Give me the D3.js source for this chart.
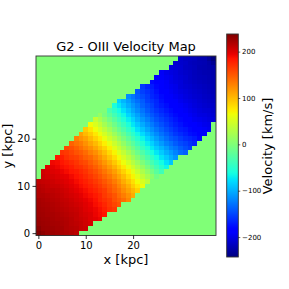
<!DOCTYPE html>
<html>
<head>
<meta charset="utf-8">
<script src="https://cdn.jsdelivr.net/npm/d3@7"></script>
<style>
  html, body { margin: 0; padding: 0; background: #fff; }
  svg { display: block; font-family: "DejaVu Sans", sans-serif; }
</style>
</head>
<body>
<div id="chart"></div>
<script>
const title = 'G2 - OIII Velocity Map';
const xLabel = 'x [kpc]';
const yLabel = 'y [kpc]';
const cbarLabel = 'Velocity [km/s]';
const xTicks = [0, 10, 20];
const yTicks = [0, 10, 20];
const cbarTicks = [-200, -100, 0, 100, 200];
const vRange = [-243, 238];
const nCells = 38;

// first filled column of every row, top row (y = 37) first
const rowStart = [30, 29, 28, 26, 25, 24, 22, 21, 19, 17, 16, 15, 13, 12, 11, 10, 9, 8, 7,
  6, 5, 4, 3, 2, 1, 1, 0, 0, 0, 0, 0, 0, 0, 0, 0, 0, 0, 0];

// velocities (km/s) of the filled cells of each row, top row first
const velocity = [
  [-211, -215, -216, -218, -222, -223, -232, -243],
  [-209, -211, -213, -217, -219, -221, -222, -226, -234],
  [-204, -207, -209, -214, -216, -218, -222, -223, -225, -226],
  [-193, -199, -202, -205, -209, -212, -214, -218, -220, -222, -223, -225],
  [-186, -192, -196, -199, -204, -207, -210, -214, -217, -219, -220, -222, -224],
  [-179, -184, -189, -193, -199, -202, -205, -210, -212, -215, -217, -219, -221, -222],
  [-156, -166, -171, -180, -187, -192, -196, -199, -205, -208, -210, -213, -215, -217, -219, -221],
  [-143, -153, -160, -167, -176, -183, -188, -194, -198, -202, -205, -208, -211, -213, -216, -218, -220],
  [-117, -127, -139, -147, -155, -165, -171, -179, -186, -191, -195, -199, -203, -206, -209, -211, -214, -216, -218],
  [-84, -97, -108, -121, -131, -140, -152, -159, -166, -176, -182, -187, -191, -196, -200, -203, -206, -209, -212, -214, -216],
  [-60, -73, -88, -101, -112, -123, -136, -145, -153, -164, -171, -177, -183, -188, -192, -196, -200, -204, -207, -210, -212, -213],
  [-32, -47, -63, -77, -91, -105, -117, -128, -140, -149, -158, -165, -172, -178, -183, -189, -193, -197, -201, -204, -207, -208, -211],
  [12, -4, -20, -36, -51, -66, -82, -95, -107, -121, -132, -142, -151, -159, -166, -173, -179, -184, -190, -194, -198, -202, -203, -206, -208],
  [40, 25, 9, -7, -23, -39, -55, -70, -84, -99, -112, -123, -134, -144, -152, -160, -167, -174, -180, -185, -190, -195, -197, -200, -203, -204],
  [66, 52, 38, 22, 6, -10, -26, -42, -58, -74, -88, -102, -114, -125, -136, -145, -154, -162, -169, -175, -181, -184, -189, -193, -197, -199],
  [91, 78, 65, 51, 35, 20, 3, -13, -29, -46, -62, -77, -91, -104, -116, -127, -137, -147, -155, -163, -170, -174, -180, -185, -188, -192, -196],
  [112, 100, 90, 77, 63, 49, 33, 17, 0, -16, -33, -49, -65, -79, -93, -106, -118, -129, -139, -148, -157, -163, -169, -176, -179, -184, -189],
  [130, 120, 112, 100, 88, 76, 62, 46, 31, 14, -3, -19, -36, -52, -67, -82, -95, -108, -120, -131, -141, -147, -155, -162, -166, -171, -180],
  [145, 137, 131, 121, 110, 100, 87, 73, 60, 44, 28, 11, -6, -22, -39, -54, -70, -84, -98, -110, -122, -130, -140, -148, -153, -160, -167],
  [158, 154, 147, 138, 129, 121, 110, 98, 87, 72, 57, 41, 25, 8, -8, -25, -42, -57, -73, -87, -98, -110, -122, -129, -139, -147, -154],
  [169, 166, 160, 153, 148, 140, 130, 122, 110, 98, 84, 70, 54, 39, 22, 5, -12, -28, -45, -60, -74, -87, -100, -110, -121, -131, -137],
  [183, 180, 171, 165, 162, 155, 147, 141, 131, 120, 108, 95, 82, 67, 51, 35, 19, 2, -15, -31, -46, -62, -76, -88, -101, -112],
  [191, 189, 184, 179, 174, 168, 161, 157, 148, 139, 129, 118, 106, 93, 79, 64, 49, 32, 16, -1, -17, -34, -49, -63, -77, -90],
  [197, 196, 192, 188, 185, 180, 173, 170, 163, 155, 147, 137, 127, 116, 104, 90, 76, 61, 46, 29, 13, -4, -20, -36, -51, -66],
  [205, 202, 199, 197, 193, 189, 184, 181, 175, 169, 161, 154, 145, 135, 125, 114, 101, 88, 74, 58, 42, 26, 10, -7, -23, -38],
  [207, 204, 203, 200, 197, 195, 190, 185, 180, 174, 167, 160, 152, 143, 134, 123, 111, 99, 84, 70, 55, 38, 23, 7, -9],
  [211, 209, 208, 206, 203, 201, 198, 194, 189, 184, 179, 173, 166, 159, 151, 142, 132, 121, 107, 95, 81, 66, 51, 36],
  [215, 213, 210, 208, 207, 204, 201, 197, 193, 188, 183, 178, 172, 165, 157, 149, 140, 128, 117, 105, 90, 77, 63],
  [217, 215, 212, 212, 210, 207, 204, 200, 196, 192, 188, 182, 177, 170, 164, 153, 144, 135, 123, 112, 101, 88],
  [218, 218, 216, 214, 212, 209, 206, 203, 200, 196, 191, 187, 182, 176, 166, 159, 152, 140, 131, 121, 108],
  [222, 220, 218, 216, 214, 211, 209, 206, 202, 199, 195, 191, 186, 177, 171, 165, 154, 147, 139, 127],
  [223, 221, 220, 218, 216, 213, 211, 208, 205, 202, 198, 194, 188, 183, 176, 167, 160, 153],
  [224, 223, 221, 219, 217, 215, 213, 210, 208, 204, 199, 196, 192, 187, 180, 171, 166],
  [225, 224, 222, 221, 219, 217, 215, 212, 210, 205, 202, 199, 193, 189, 184],
  [227, 225, 224, 222, 220, 219, 217, 214, 210, 207, 204, 199, 196, 192],
  [228, 226, 225, 223, 222, 220, 218, 214, 212, 209, 205, 202],
  [233, 227, 226, 225, 223, 222, 218, 216, 214, 209, 207],
  [238, 232, 227, 226, 224, 221, 219, 217, 213]
];

const width = 289, height = 289;
const svg = d3.select('#chart').append('svg')
  .attr('width', width)
  .attr('height', height);

const x = d3.scaleLinear().domain([-0.5, nCells - 0.5]).range([36, 216]);
const y = d3.scaleLinear().domain([-0.5, nCells - 0.5]).range([235.5, 56]);

// matplotlib 'jet' colormap
const jetR = d3.scaleLinear().domain([0, 0.35, 0.66, 0.89, 1]).range([0, 0, 1, 1, 0.5]).clamp(true);
const jetG = d3.scaleLinear().domain([0, 0.125, 0.375, 0.64, 0.91, 1]).range([0, 0, 1, 1, 0, 0]).clamp(true);
const jetB = d3.scaleLinear().domain([0, 0.11, 0.34, 0.65, 1]).range([0.5, 1, 1, 0, 0]).clamp(true);
const jet = t => d3.rgb(255 * jetR(t), 255 * jetG(t), 255 * jetB(t)).formatHex();
const norm = d3.scaleLinear().domain(vRange).range([0, 1]).clamp(true);

// full grid, cells outside the galaxy are 0 km/s
const cells = [];
for (let r = 0; r < nCells; r++) {
  for (let c = 0; c < nCells; c++) {
    const i = c - rowStart[r];
    const v = (i >= 0 && i < velocity[r].length) ? velocity[r][i] : 0;
    cells.push({ col: c, row: nCells - 1 - r, v: v });
  }
}

svg.append('g')
  .attr('shape-rendering', 'crispEdges')
  .selectAll('rect')
  .data(cells)
  .enter().append('rect')
  .attr('x', d => x(d.col - 0.5))
  .attr('y', d => y(d.row + 0.5))
  .attr('width', d => x(d.col + 0.5) - x(d.col - 0.5))
  .attr('height', d => y(d.row - 0.5) - y(d.row + 0.5))
  .attr('fill', d => jet(norm(d.v)));

// frame
svg.append('rect')
  .attr('x', x(-0.5)).attr('y', y(nCells - 0.5))
  .attr('width', x(nCells - 0.5) - x(-0.5))
  .attr('height', y(-0.5) - y(nCells - 0.5))
  .attr('fill', 'none')
  .attr('stroke', '#333')
  .attr('stroke-width', 0.9);

// axes
const xAxis = svg.append('g')
  .attr('transform', `translate(0,${y(-0.5)})`)
  .call(d3.axisBottom(x).tickValues(xTicks).tickSize(3.5).tickPadding(2.5));
const yAxis = svg.append('g')
  .attr('transform', `translate(${x(-0.5)},0)`)
  .call(d3.axisLeft(y).tickValues(yTicks).tickSize(3.5).tickPadding(2.5));
[xAxis, yAxis].forEach(g => {
  g.select('.domain').remove();
  g.selectAll('text').attr('font-size', 10).attr('fill', '#000').attr('font-family', '"DejaVu Sans", sans-serif');
  g.selectAll('line').attr('stroke', '#000').attr('stroke-width', 0.8);
});

// colorbar
const cb = d3.scaleLinear().domain(vRange).range([257, 34]);
const grad = svg.append('defs').append('linearGradient')
  .attr('id', 'jetGrad')
  .attr('x1', 0).attr('y1', 1).attr('x2', 0).attr('y2', 0);
grad.selectAll('stop')
  .data(d3.range(0, 1.0001, 0.01))
  .enter().append('stop')
  .attr('offset', d => d)
  .attr('stop-color', d => jet(d));

const cbX = 226.7, cbW = 11.6;
svg.append('rect')
  .attr('x', cbX).attr('y', cb(vRange[1]))
  .attr('width', cbW).attr('height', cb(vRange[0]) - cb(vRange[1]))
  .attr('fill', 'url(#jetGrad)')
  .attr('stroke', '#333')
  .attr('stroke-width', 0.9);

const cAxis = svg.append('g')
  .attr('transform', `translate(${cbX + cbW},0)`)
  .call(d3.axisRight(cb).tickValues(cbarTicks).tickSize(2).tickPadding(1.8));
cAxis.select('.domain').remove();
cAxis.selectAll('text').attr('font-size', 7).attr('fill', '#000').attr('font-family', '"DejaVu Sans", sans-serif');
cAxis.selectAll('line').attr('stroke', '#000').attr('stroke-width', 0.6);

// texts
svg.append('text')
  .attr('x', 126).attr('y', 51)
  .attr('text-anchor', 'middle')
  .attr('font-size', 13)
  .text(title);

svg.append('text')
  .attr('x', 126).attr('y', 264)
  .attr('text-anchor', 'middle')
  .attr('font-size', 13)
  .text(xLabel);

svg.append('text')
  .attr('transform', 'translate(12,146) rotate(-90)')
  .attr('text-anchor', 'middle')
  .attr('font-size', 13)
  .text(yLabel);

svg.append('text')
  .attr('transform', 'translate(272,146) rotate(-90)')
  .attr('text-anchor', 'middle')
  .attr('font-size', 13)
  .text(cbarLabel);
</script>
</body>
</html>
